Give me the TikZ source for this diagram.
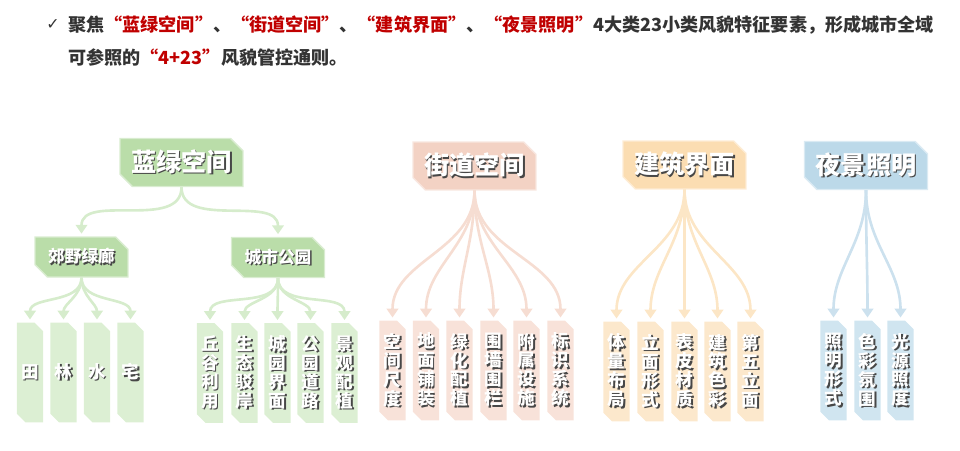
\documentclass[tikz,border=0pt]{standalone}
\usepackage{fontspec}
\usetikzlibrary{shapes.misc,arrows.meta}
\newfontfamily\cjk{Noto Sans CJK SC}
\newfontfamily\sym{DejaVu Sans}
\definecolor{hred}{HTML}{C00000}
\definecolor{htext}{HTML}{333333}
\definecolor{shade}{HTML}{474747}
\definecolor{gA}{HTML}{BADDA9}
\definecolor{gB}{HTML}{DCEFD3}
\definecolor{gL}{HTML}{D6ECCC}
\definecolor{pA}{HTML}{F3D2C4}
\definecolor{pB}{HTML}{F8E2D9}
\definecolor{pL}{HTML}{F6DDD2}
\definecolor{oA}{HTML}{FBDDB2}
\definecolor{oB}{HTML}{FCE8CC}
\definecolor{oL}{HTML}{FCE6C6}
\definecolor{bA}{HTML}{BCD9E9}
\definecolor{bB}{HTML}{D0E5F0}
\definecolor{bL}{HTML}{CCE1EE}
\newcommand\sh[1]{\makebox[0pt][l]{\kern.8pt\raisebox{-.8pt}{\textcolor{shade}{#1}}}#1}
\newcommand\four[4]{\sh{#1}\\\sh{#2}\\\sh{#3}\\\sh{#4}}

\begin{document}
\begin{tikzpicture}[x=0.02cm,y=-0.02cm,
    root/.style={chamfered rectangle,chamfered rectangle corners={north east,south west},
        chamfered rectangle sep=3.5pt,fill=#1,draw=#1!55!white,line width=.8pt,
        minimum width=2.46cm,minimum height=.96cm,inner sep=0pt,text=white,
        font=\cjk\bfseries\fontsize{14.3}{17}\selectfont},
    sub/.style={root=#1,minimum width=1.86cm,minimum height=.8cm,
        font=\cjk\bfseries\fontsize{9.5}{11}\selectfont},
    leaf/.style={chamfered rectangle,chamfered rectangle corners={north east,south west},
        chamfered rectangle sep=2.5pt,fill=#1,minimum width=.5cm,minimum height=2cm,
        inner sep=0pt,text=white,align=center,
        font=\cjk\bfseries\fontsize{10}{10.8}\selectfont},
    link/.style={draw=#1,line width=1.5pt,shorten >=1.5pt,
        -{Triangle[width=6.5pt,length=5pt]}}]
\useasboundingbox (0,0) rectangle (960,450);

% header
\node[text=htext,inner sep=0pt,font=\sym\fontsize{9}{10}\selectfont] (ck) at (53,25) {✓};
\node[anchor=west,inner sep=0pt,text=htext,font=\cjk\bfseries\fontsize{10.3}{12}\selectfont] (t1) at (68,25)
    {聚焦\textcolor{hred}{“蓝绿空间”}、\textcolor{hred}{“街道空间”}、\textcolor{hred}{“建筑界面”}、\textcolor{hred}{“夜景照明”}4大类23小类风貌特征要素，形成城市全域};
\node[anchor=west,inner sep=0pt,text=htext,font=\cjk\bfseries\fontsize{10.3}{12}\selectfont] (t2) at (68,58)
    {可参照的\textcolor{hred}{“4+23”}风貌管控通则。};

% blue-green space
\node[root=gA] (g) at (181.5,162.5) {\sh{蓝绿空间}};
\node[sub=gA] (g1) at (81.5,257) {\sh{郊野绿廊}};
\node[sub=gA] (g2) at (278,257.5) {\sh{城市公园}};
\node[leaf=gB] (g11) at (30,372.5) {\sh{田}};
\node[leaf=gB] (g12) at (63.5,372.5) {\sh{林}};
\node[leaf=gB] (g13) at (97,372.5) {\sh{水}};
\node[leaf=gB] (g14) at (130.5,372.5) {\sh{宅}};
\node[leaf=gB] (g21) at (210,373) {\four 丘谷利用};
\node[leaf=gB] (g22) at (244.5,373) {\four 生态驳岸};
\node[leaf=gB] (g23) at (277.5,373) {\four 城园界面};
\node[leaf=gB] (g24) at (310.5,373) {\four 公园道路};
\node[leaf=gB] (g25) at (344.5,373) {\four 景观配植};

% street space
\node[root=pA] (p) at (474.5,166) {\sh{街道空间}};
\node[leaf=pB] (p1) at (392.5,370.5) {\four 空间尺度};
\node[leaf=pB] (p2) at (426,370.5) {\four 地面铺装};
\node[leaf=pB] (p3) at (459.5,370.5) {\four 绿化配植};
\node[leaf=pB] (p4) at (493.5,370.5) {\four 围墙围栏};
\node[leaf=pB] (p5) at (526.5,370.5) {\four 附属设施};
\node[leaf=pB] (p6) at (560.5,370.5) {\four 标识系统};

% building interface
\node[root=oA] (o) at (684.5,165) {\sh{建筑界面}};
\node[leaf=oB] (o1) at (616.5,371.5) {\four 体量布局};
\node[leaf=oB] (o2) at (650.5,371.5) {\four 立面形式};
\node[leaf=oB] (o3) at (684.5,371.5) {\four 表皮材质};
\node[leaf=oB] (o4) at (717.5,371.5) {\four 建筑色彩};
\node[leaf=oB] (o5) at (750.5,371.5) {\four 第五立面};

% night lighting
\node[root=bA] (b) at (866,165.5) {\sh{夜景照明}};
\node[leaf=bB] (b1) at (833.5,370.5) {\four 照明形式};
\node[leaf=bB] (b2) at (867.5,370.5) {\four 色彩氛围};
\node[leaf=bB] (b3) at (900.5,370.5) {\four 光源照度};

\draw[link=gL] (g.south) to[out=-90,in=90] (g1.north);
\draw[link=gL] (g.south) to[out=-90,in=90] (g2.north);
\draw[link=gL] (g1.south) to[out=-90,in=90] (g11.north);
\draw[link=gL] (g1.south) to[out=-90,in=90] (g12.north);
\draw[link=gL] (g1.south) to[out=-90,in=90] (g13.north);
\draw[link=gL] (g1.south) to[out=-90,in=90] (g14.north);
\draw[link=gL] (g2.south) to[out=-90,in=90] (g21.north);
\draw[link=gL] (g2.south) to[out=-90,in=90] (g22.north);
\draw[link=gL] (g2.south) to[out=-90,in=90] (g23.north);
\draw[link=gL] (g2.south) to[out=-90,in=90] (g24.north);
\draw[link=gL] (g2.south) to[out=-90,in=90] (g25.north);

\draw[link=pL] (p.south) to[out=-90,in=90] (p1.north);
\draw[link=pL] (p.south) to[out=-90,in=90] (p2.north);
\draw[link=pL] (p.south) to[out=-90,in=90] (p3.north);
\draw[link=pL] (p.south) to[out=-90,in=90] (p4.north);
\draw[link=pL] (p.south) to[out=-90,in=90] (p5.north);
\draw[link=pL] (p.south) to[out=-90,in=90] (p6.north);

\draw[link=oL] (o.south) to[out=-90,in=90] (o1.north);
\draw[link=oL] (o.south) to[out=-90,in=90] (o2.north);
\draw[link=oL] (o.south) to[out=-90,in=90] (o3.north);
\draw[link=oL] (o.south) to[out=-90,in=90] (o4.north);
\draw[link=oL] (o.south) to[out=-90,in=90] (o5.north);

\draw[link=bL] (b.south) to[out=-90,in=90] (b1.north);
\draw[link=bL] (b.south) to[out=-90,in=90] (b2.north);
\draw[link=bL] (b.south) to[out=-90,in=90] (b3.north);
\end{tikzpicture}
\end{document}
